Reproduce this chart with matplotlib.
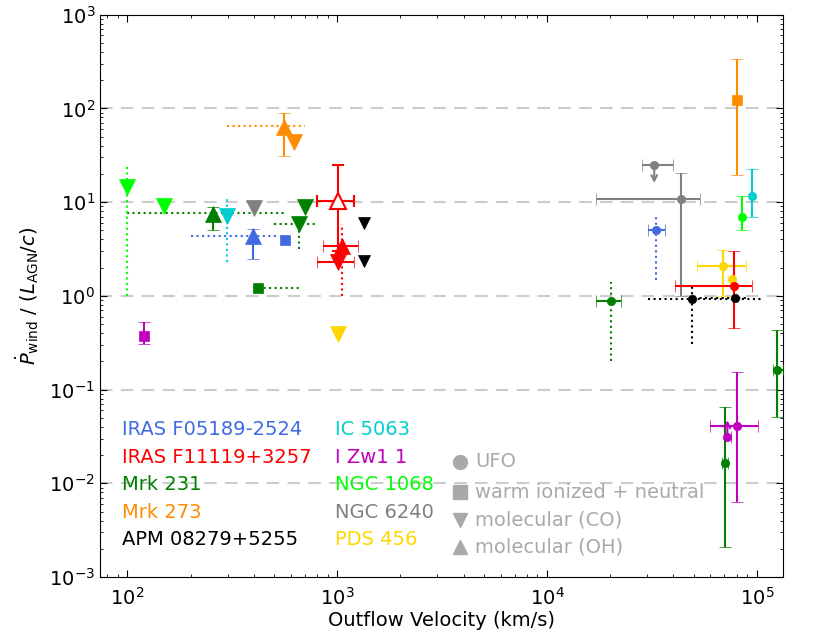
import numpy as np
import matplotlib
matplotlib.use('Agg')
import matplotlib.pyplot as plt
from matplotlib.patches import FancyArrowPatch

############################## Data ############################################
galaxy_names = ['IRAS F05189-2524', 'IRAS F11119+3257', 'Mrk 231', 'Mrk 273',
                'APM 08279+5255', 'IC 5063', 'I Zw1 1', 'NGC 1068',
                'NGC 6240', 'PDS 456']
galaxy_colors = ['royalblue', 'red', 'green', 'darkorange', 'black',
                 'darkturquoise', 'm', 'lime', 'gray', 'gold']
col = dict(zip(galaxy_names, galaxy_colors))

nan = np.nan
# molecular (CO): galaxy, velocity, pdot, v range
co_gal = ['NGC 1068', 'NGC 1068', 'IC 5063', 'NGC 6240', 'Mrk 231', 'Mrk 231',
          'Mrk 273', 'IRAS F11119+3257', 'APM 08279+5255', 'APM 08279+5255',
          'PDS 456']
co_v = [100, 149, 298, 403, 705, 655, 624, 1004, 1346, 1346, 1004]
co_p = [14.4, 9.2, 7.2, 8.6, 8.8, 5.9, 43.7, 2.29, 6.0, 2.38, 0.39]
co_vlo = [nan, nan, nan, nan, nan, nan, nan, 800, nan, nan, nan]
co_vhi = [nan, nan, nan, nan, nan, nan, nan, 1205, nan, nan, nan]
co_ms = [11, 11, 11, 11, 11, 11, 11, 11, 8, 8, 11]

# molecular (OH)
oh_gal = ['Mrk 231', 'IRAS F05189-2524', 'Mrk 273', 'IRAS F11119+3257',
          'IRAS F11119+3257']
oh_v = [255, 395, 560, 1004, 1052]
oh_p = [7.5, 4.3, 63, 10.4, 3.44]
oh_vlo = [nan, nan, nan, 800, 851]
oh_vhi = [nan, nan, nan, 1205, 1250]
oh_plo = [5.0, 2.5, 31, 3.0, nan]
oh_phi = [8.9, 5.2, 90, 24.6, nan]
oh_open = [False, False, False, True, False]

# warm ionized + neutral
wi_gal = ['I Zw1 1', 'Mrk 231', 'IRAS F05189-2524', 'Mrk 273']
wi_v = [120, 417, 561, 80000]
wi_p = [0.37, 1.22, 3.9, 124]
wi_plo = [0.31, nan, nan, 19.6]
wi_phi = [0.53, nan, nan, 338]

# UFO
ufo_gal = ['NGC 6240', 'NGC 6240', 'IC 5063', 'NGC 1068', 'IRAS F05189-2524',
           'PDS 456', 'PDS 456', 'IRAS F11119+3257', 'APM 08279+5255',
           'APM 08279+5255', 'Mrk 231', 'Mrk 231', 'I Zw1 1', 'I Zw1 1',
           'Mrk 231']
ufo_v = [32400, 43300, 94400, 85000, 33000, 69000, 75700, 78000, 48900,
         78500, 20100, 125000, 80600, 72300, 70500]
ufo_p = [24.6, 10.7, 11.7, 7.0, 5.0, 2.1, 1.52, 1.27, 0.93, 0.95, 0.89,
         0.16, 0.041, 0.031, 0.0164]
ufo_vlo = [28200, 17100, nan, nan, 30400, 51600, nan, 40600, nan, nan,
           17100, 119000, 60000, 69500, 68000]
ufo_vhi = [39600, 53500, nan, nan, 36300, 88800, nan, 94600, nan, nan,
           22400, 133000, 101000, 75000, 73000]
ufo_plo = [nan, 1.0, 7.0, 5.0, nan, 1.0, nan, 0.45, nan, nan, nan,
           0.051, 0.0063, nan, 0.0021]
ufo_phi = [nan, 20.5, 22.7, 11.7, nan, 3.1, nan, 3.04, nan, nan, nan,
           0.437, 0.153, nan, 0.065]
# limits (galaxy, velocity, start, end of arrow)
lim_gal = ['NGC 6240', 'I Zw1 1']
lim_v = [32400, 72300]
lim_p0 = [24.6, 0.031]
lim_p1 = [16.0, 0.047]

# dotted ranges: horizontal (galaxy, pdot, v from, v to)
hdot_gal = ['Mrk 231', 'IRAS F05189-2524', 'Mrk 231', 'Mrk 231', 'Mrk 273',
            'APM 08279+5255', 'APM 08279+5255']
hdot_p = [7.6, 4.3, 5.9, 1.22, 65, 0.93, 0.95]
hdot_v0 = [100, 200, 498, 417, 298, 30400, 50000]
hdot_v1 = [555, 516, 785, 655, 705, 106000, 90000]
# vertical (galaxy, v, pdot from, pdot to)
vdot_gal = ['NGC 1068', 'IC 5063', 'Mrk 231', 'IRAS F11119+3257',
            'IRAS F05189-2524', 'APM 08279+5255', 'IRAS F11119+3257',
            'Mrk 231']
vdot_v = [100, 298, 655, 1052, 33000, 48900, 78000, 20100]
vdot_p0 = [1.0, 2.29, 3.2, 1.0, 1.46, 0.31, 0.44, 0.2]
vdot_p1 = [24.6, 11.7, 6.6, 5.9, 7.5, 1.34, 1.94, 1.4]

############################## Plot ############################################
fig = plt.figure(figsize=(8.13, 6.39), dpi=100)
ax = fig.add_axes([0.123, 0.097, 0.840, 0.880])
ax.set_xscale('log')
ax.set_yscale('log')
ax.set_xlim(74, 1.33e5)
ax.set_ylim(1e-3, 1e3)

# grid at decades
for yy in [1e-2, 1e-1, 1e0, 1e1, 1e2]:
    ax.axhline(yy, color='#cccccc', lw=1.5, ls=(0, (6, 4)), zorder=0)

# dotted ranges
for g, p, a, b in zip(hdot_gal, hdot_p, hdot_v0, hdot_v1):
    ax.hlines(p, a, b, colors=col[g], linestyles=':', lw=1.5, zorder=1)
for g, v, a, b in zip(vdot_gal, vdot_v, vdot_p0, vdot_p1):
    ax.vlines(v, a, b, colors=col[g], linestyles=':', lw=1.5, zorder=1)


def point(g, v, p, marker, ms, vlo=nan, vhi=nan, plo=nan, phi=nan,
          open_marker=False):
    xerr = None if np.isnan(vlo) else [[v - vlo], [vhi - v]]
    yerr = None if np.isnan(plo) else [[p - plo], [phi - p]]
    ax.errorbar(v, p, xerr=xerr, yerr=yerr, fmt=marker, ms=ms,
                color=col[g], ecolor=col[g], elinewidth=1.5, capsize=4,
                capthick=1.5, mec=col[g],
                mfc='white' if open_marker else col[g],
                mew=1.5 if open_marker else 0.5, zorder=3)


for i in range(len(co_gal)):
    point(co_gal[i], co_v[i], co_p[i], 'v', co_ms[i], co_vlo[i], co_vhi[i])
for i in range(len(oh_gal)):
    point(oh_gal[i], oh_v[i], oh_p[i], '^', 11, oh_vlo[i], oh_vhi[i],
          oh_plo[i], oh_phi[i], oh_open[i])
for i in range(len(wi_gal)):
    point(wi_gal[i], wi_v[i], wi_p[i], 's', 7, plo=wi_plo[i], phi=wi_phi[i])
for i in range(len(ufo_gal)):
    point(ufo_gal[i], ufo_v[i], ufo_p[i], 'o', 6, ufo_vlo[i], ufo_vhi[i],
          ufo_plo[i], ufo_phi[i])
# upper / lower limit arrows
for g, v, a, b in zip(lim_gal, lim_v, lim_p0, lim_p1):
    ax.add_patch(FancyArrowPatch((v, a), (v, b), arrowstyle='->',
                                 mutation_scale=10, color=col[g], lw=1.5,
                                 shrinkA=0, shrinkB=0, zorder=3))

# galaxy name "legend"
for i, g in enumerate(galaxy_names):
    xt = 0.032 if i < 5 else 0.344
    yt = 0.2616 - 0.0487 * (i % 5)
    ax.text(xt, yt, g, color=col[g], fontsize=14, va='center', ha='left',
            transform=ax.transAxes)

# marker legend
mk_labels = ['UFO', 'warm ionized + neutral', 'molecular (CO)',
             'molecular (OH)']
mk_shapes = ['o', 's', 'v', '^']
mk_y = [0.2046, 0.151, 0.101, 0.053]
for lab, m, yy in zip(mk_labels, mk_shapes, mk_y):
    ax.plot(0.527, yy, m, color='darkgray', ms=10, transform=ax.transAxes,
            clip_on=False)
    ax.text(0.549, yy, lab, color='darkgray', fontsize=14, va='center',
            ha='left', transform=ax.transAxes)

ax.set_xlabel('Outflow Velocity (km/s)', fontsize=14, labelpad=2)
ax.set_ylabel(r'$\dot{P}_{\rm wind}$ / ($L_{\rm AGN}/c$)', fontsize=14,
              labelpad=6)
ax.tick_params(which='both', direction='in', top=True, right=True,
               labelsize=14)
ax.tick_params(axis='x', which='major', pad=7)
ax.tick_params(which='major', length=5)
ax.tick_params(which='minor', length=2.5)

plt.savefig('out.png', dpi=100)
